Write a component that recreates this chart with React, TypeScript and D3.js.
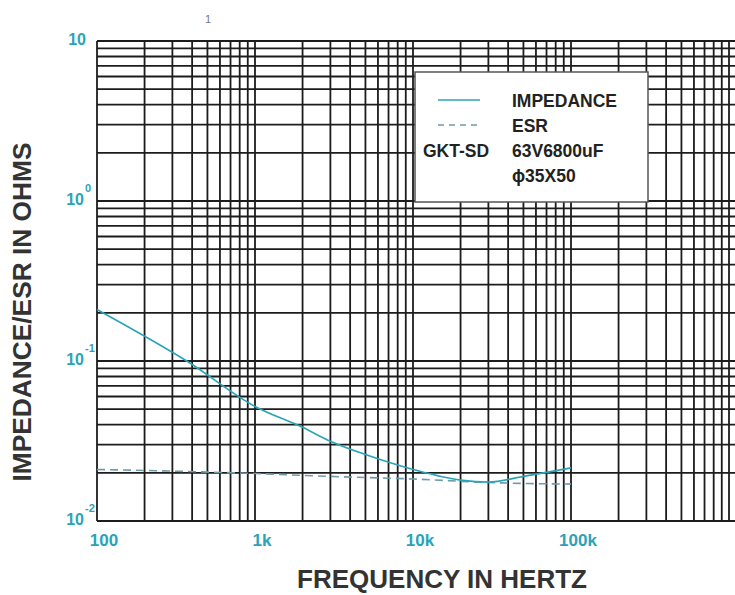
import React from 'react';
import * as d3 from 'd3';

// frequency (Hz) / ohms
const impFreq = [100, 200, 370, 1000, 2000, 3000, 5000, 10000, 20000, 30000, 50000, 100000];
const impOhms = [0.21, 0.143, 0.1, 0.052, 0.0385, 0.0315, 0.026, 0.021, 0.018, 0.0175, 0.019, 0.0215];
const esrFreq = [100, 300, 1000, 3000, 10000, 30000, 100000];
const esrOhms = [0.021, 0.0205, 0.0198, 0.019, 0.0183, 0.0174, 0.017];

const xTickVals = [100, 1000, 10000, 100000];
const xTickText = ['100', '1k', '10k', '100k'];
const yTickVals = [10, 1, 0.1, 0.01];
const yTickExp = ['', '0', '-1', '-2'];

const legendRows = ['IMPEDANCE', 'ESR', '63V6800uF', '\u03D535X50'];

const W = 735;
const H = 595;
const left = 97;
const top = 41;
const bottom = 521;
const right = 735;

const CYAN = '#2aa3b8';
const ESR_COL = '#6f9aa8';
const FONT = '"Liberation Sans", Arial, sans-serif';

export default function App() {
  const x = d3.scaleLog().domain([100, 1e6]).range([left, 729]);
  const y = d3.scaleLog().domain([0.01, 10]).range([bottom, top]);

  // minor + major grid positions
  const xGrid: number[] = [];
  for (let d = 100; d <= 1e6; d *= 10) {
    for (let m = 1; m <= 9; m++) {
      if (x(d * m) <= right) xGrid.push(d * m);
    }
  }
  const yGrid: number[] = [];
  for (let d = 0.01; d < 10; d *= 10) {
    for (let m = 1; m <= 9; m++) yGrid.push(d * m);
  }
  yGrid.push(10);

  const line = d3.line<[number, number]>()
    .x(d => x(d[0]))
    .y(d => y(d[1]))
    .curve(d3.curveMonotoneX);

  const impData = impFreq.map((f, i) => [f, impOhms[i]] as [number, number]);
  const esrData = esrFreq.map((f, i) => [f, esrOhms[i]] as [number, number]);

  return (
    <svg width={W} height={H} style={{ position: 'absolute', left: 0, top: 0, background: '#fff' }}
      fontFamily={FONT}>
      <defs>
        <clipPath id="plotClip">
          <rect x={left - 2} y={top - 2} width={right - left + 2} height={bottom - top + 4} />
        </clipPath>
      </defs>

      <g clipPath="url(#plotClip)">
        {xGrid.map((v, i) => (
          <line key={'vx' + i} x1={x(v)} x2={x(v)} y1={top} y2={bottom}
            stroke="#1c1c1c" strokeWidth={1.8} />
        ))}
        {yGrid.map((v, i) => (
          <line key={'hy' + i} x1={left} x2={right} y1={y(v)} y2={y(v)}
            stroke="#1c1c1c" strokeWidth={1.8} />
        ))}

        <path d={line(esrData) || ''} fill="none" stroke={ESR_COL} strokeWidth={1.6}
          strokeDasharray="8,5" />
        <path d={line(impData) || ''} fill="none" stroke={CYAN} strokeWidth={1.6} />
      </g>

      {/* legend */}
      <rect x={415} y={72} width={233} height={130} fill="#fff" stroke="#555" strokeWidth={1.5} />
      <line x1={438} x2={480} y1={100} y2={100} stroke={CYAN} strokeWidth={1.6} />
      <line x1={438} x2={480} y1={125} y2={125} stroke={ESR_COL} strokeWidth={1.6} strokeDasharray="6,5" />
      {legendRows.map((t, i) => (
        <text key={t} x={512} y={107 + i * 25} fontSize={17.5} fontWeight="bold" fill="#222">{t}</text>
      ))}
      <text x={423} y={157} fontSize={17.5} fontWeight="bold" fill="#222">GKT-SD</text>

      {/* y ticks */}
      {yTickVals.map((v, i) => (
        <g key={'yt' + i}>
          <text x={i === 0 ? 86 : 84} y={y(v) + 4} textAnchor="end" fontSize={16} fontWeight="bold" fill={CYAN}>10</text>
          {yTickExp[i] && (
            <text x={85} y={y(v) - 9} fontSize={11} fontWeight="bold" fill={CYAN}>{yTickExp[i]}</text>
          )}
        </g>
      ))}
      <text x={205} y={23} fontSize={11} fill="#777">1</text>

      {/* x ticks */}
      {xTickVals.map((v, i) => (
        <text key={'xt' + i} x={x(v) + 7} y={546} textAnchor="middle" fontSize={17} fontWeight="bold" fill={CYAN}>
          {xTickText[i]}
        </text>
      ))}

      <text x={442} y={588} textAnchor="middle" fontSize={26} fontWeight="bold" fill="#333"
        textLength={290} lengthAdjust="spacingAndGlyphs">FREQUENCY IN HERTZ</text>
      <text transform={`translate(31,312) rotate(-90)`} textAnchor="middle" fontSize={26} fontWeight="bold" fill="#333"
        textLength={339} lengthAdjust="spacingAndGlyphs">
        IMPEDANCE/ESR IN OHMS
      </text>
    </svg>
  );
}
